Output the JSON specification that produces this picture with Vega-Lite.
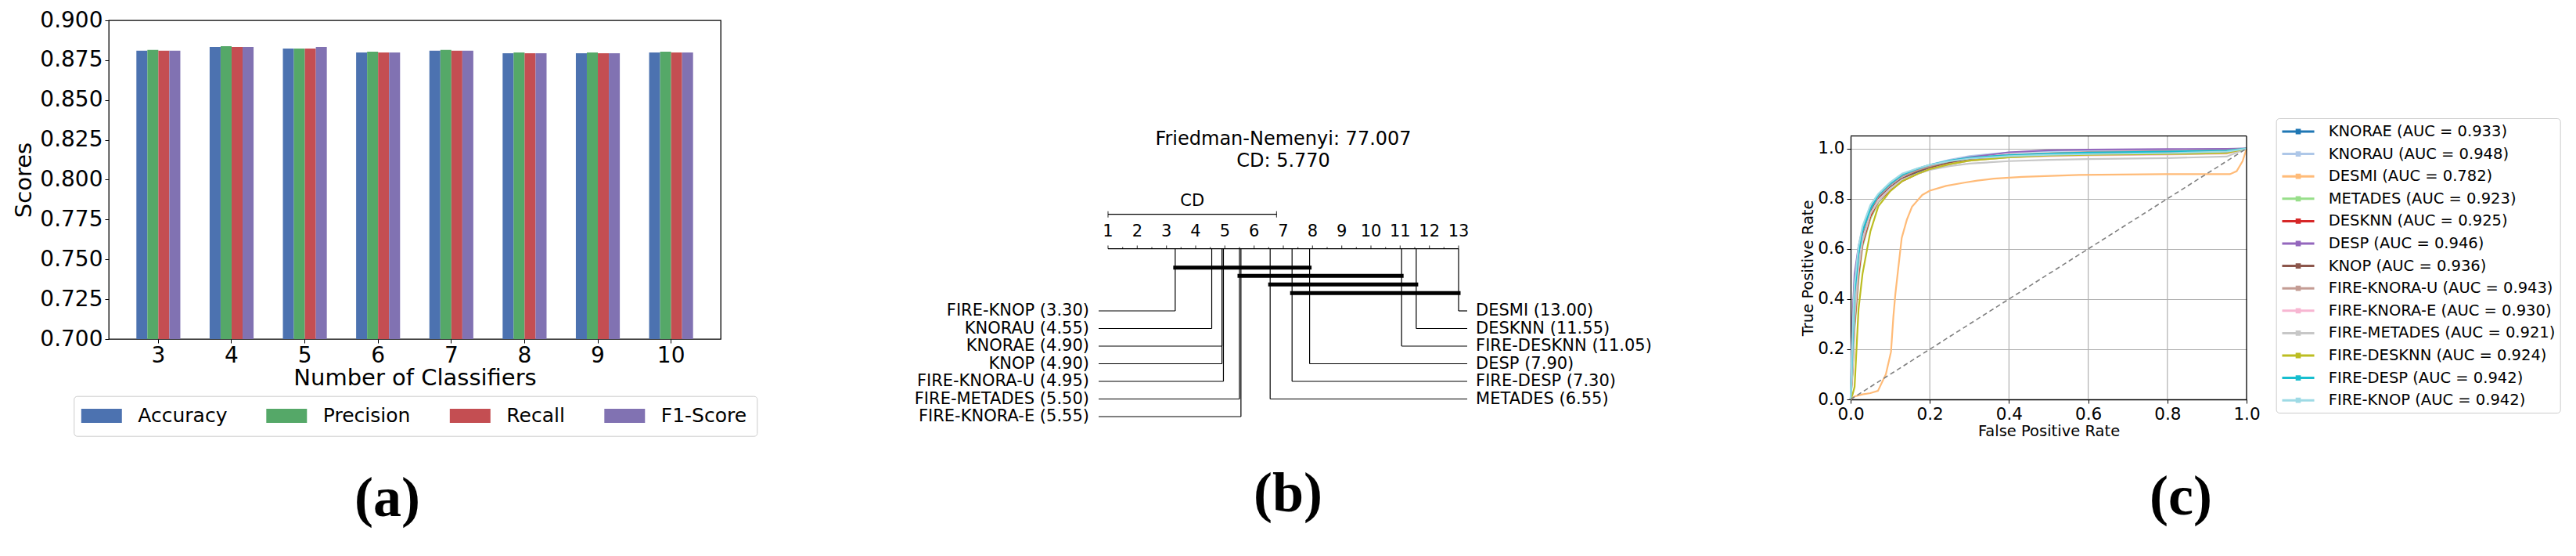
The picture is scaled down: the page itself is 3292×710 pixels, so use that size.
{
  "$schema": "https://vega.github.io/schema/vega-lite/v6.json",
  "background": "white",
  "padding": {"left": 16, "top": 11, "right": 5, "bottom": 5},
  "config": {
    "font": "DejaVu Sans",
    "view": {"stroke": null},
    "axis": {"labelColor": "black", "titleColor": "black", "tickColor": "black", "domainColor": "black", "titleFontWeight": "normal"},
    "legend": {"labelColor": "black"}
  },
  "datasets": {
    "bars": [
      {"n": 3, "metric": "Accuracy", "score": 0.8809}, {"n": 3, "metric": "Precision", "score": 0.8814}, {"n": 3, "metric": "Recall", "score": 0.8809}, {"n": 3, "metric": "F1-Score", "score": 0.8809},
      {"n": 4, "metric": "Accuracy", "score": 0.8833}, {"n": 4, "metric": "Precision", "score": 0.8838}, {"n": 4, "metric": "Recall", "score": 0.8833}, {"n": 4, "metric": "F1-Score", "score": 0.8833},
      {"n": 5, "metric": "Accuracy", "score": 0.8823}, {"n": 5, "metric": "Precision", "score": 0.8823}, {"n": 5, "metric": "Recall", "score": 0.8823}, {"n": 5, "metric": "F1-Score", "score": 0.8833},
      {"n": 6, "metric": "Accuracy", "score": 0.8798}, {"n": 6, "metric": "Precision", "score": 0.8803}, {"n": 6, "metric": "Recall", "score": 0.8798}, {"n": 6, "metric": "F1-Score", "score": 0.8798},
      {"n": 7, "metric": "Accuracy", "score": 0.8809}, {"n": 7, "metric": "Precision", "score": 0.8814}, {"n": 7, "metric": "Recall", "score": 0.8809}, {"n": 7, "metric": "F1-Score", "score": 0.8809},
      {"n": 8, "metric": "Accuracy", "score": 0.8793}, {"n": 8, "metric": "Precision", "score": 0.8798}, {"n": 8, "metric": "Recall", "score": 0.8793}, {"n": 8, "metric": "F1-Score", "score": 0.8793},
      {"n": 9, "metric": "Accuracy", "score": 0.8793}, {"n": 9, "metric": "Precision", "score": 0.8798}, {"n": 9, "metric": "Recall", "score": 0.8793}, {"n": 9, "metric": "F1-Score", "score": 0.8793},
      {"n": 10, "metric": "Accuracy", "score": 0.8798}, {"n": 10, "metric": "Precision", "score": 0.8803}, {"n": 10, "metric": "Recall", "score": 0.8798}, {"n": 10, "metric": "F1-Score", "score": 0.8798}
    ],
    "ticks": [
      {"v": 1, "major": true}, {"v": 1.5, "major": false}, {"v": 2, "major": true}, {"v": 2.5, "major": false},
      {"v": 3, "major": true}, {"v": 3.5, "major": false}, {"v": 4, "major": true}, {"v": 4.5, "major": false},
      {"v": 5, "major": true}, {"v": 5.5, "major": false}, {"v": 6, "major": true}, {"v": 6.5, "major": false},
      {"v": 7, "major": true}, {"v": 7.5, "major": false}, {"v": 8, "major": true}, {"v": 8.5, "major": false},
      {"v": 9, "major": true}, {"v": 9.5, "major": false}, {"v": 10, "major": true}, {"v": 10.5, "major": false},
      {"v": 11, "major": true}, {"v": 11.5, "major": false}, {"v": 12, "major": true}, {"v": 12.5, "major": false},
      {"v": 13, "major": true}
    ],
    "cd": [{"start": 1, "end": 6.77, "mid": 3.885, "label": "CD"}],
    "methods": [
      {"name": "FIRE-KNOP", "rank": 3.30, "side": "left", "row": 1, "label": "FIRE-KNOP (3.30)"},
      {"name": "KNORAU", "rank": 4.55, "side": "left", "row": 2, "label": "KNORAU (4.55)"},
      {"name": "KNORAE", "rank": 4.90, "side": "left", "row": 3, "label": "KNORAE (4.90)"},
      {"name": "KNOP", "rank": 4.90, "side": "left", "row": 4, "label": "KNOP (4.90)"},
      {"name": "FIRE-KNORA-U", "rank": 4.95, "side": "left", "row": 5, "label": "FIRE-KNORA-U (4.95)"},
      {"name": "FIRE-METADES", "rank": 5.50, "side": "left", "row": 6, "label": "FIRE-METADES (5.50)"},
      {"name": "FIRE-KNORA-E", "rank": 5.55, "side": "left", "row": 7, "label": "FIRE-KNORA-E (5.55)"},
      {"name": "DESMI", "rank": 13.00, "side": "right", "row": 1, "label": "DESMI (13.00)"},
      {"name": "DESKNN", "rank": 11.55, "side": "right", "row": 2, "label": "DESKNN (11.55)"},
      {"name": "FIRE-DESKNN", "rank": 11.05, "side": "right", "row": 3, "label": "FIRE-DESKNN (11.05)"},
      {"name": "DESP", "rank": 7.90, "side": "right", "row": 4, "label": "DESP (7.90)"},
      {"name": "FIRE-DESP", "rank": 7.30, "side": "right", "row": 5, "label": "FIRE-DESP (7.30)"},
      {"name": "METADES", "rank": 6.55, "side": "right", "row": 6, "label": "METADES (6.55)"}
    ],
    "cliques": [
      {"k": 1, "lo": 3.30, "hi": 7.90},
      {"k": 2, "lo": 5.50, "hi": 11.05},
      {"k": 3, "lo": 6.55, "hi": 11.55},
      {"k": 4, "lo": 7.30, "hi": 13.00}
    ],
    "xgrid": [{"x": 0.2}, {"x": 0.4}, {"x": 0.6}, {"x": 0.8}, {"x": 1.0}],
    "diag": [{"fpr": 0, "tpr": 0}, {"fpr": 1, "tpr": 1}],
    "roc": [
      {"model": "KNORAE (AUC = 0.933)", "fpr": 0, "tpr": 0}, {"model": "KNORAE (AUC = 0.933)", "fpr": 0.005, "tpr": 0.18}, {"model": "KNORAE (AUC = 0.933)", "fpr": 0.01, "tpr": 0.40}, {"model": "KNORAE (AUC = 0.933)", "fpr": 0.02, "tpr": 0.56}, {"model": "KNORAE (AUC = 0.933)", "fpr": 0.03, "tpr": 0.65}, {"model": "KNORAE (AUC = 0.933)", "fpr": 0.05, "tpr": 0.745}, {"model": "KNORAE (AUC = 0.933)", "fpr": 0.07, "tpr": 0.80}, {"model": "KNORAE (AUC = 0.933)", "fpr": 0.1, "tpr": 0.845}, {"model": "KNORAE (AUC = 0.933)", "fpr": 0.13, "tpr": 0.88}, {"model": "KNORAE (AUC = 0.933)", "fpr": 0.17, "tpr": 0.905}, {"model": "KNORAE (AUC = 0.933)", "fpr": 0.2, "tpr": 0.92}, {"model": "KNORAE (AUC = 0.933)", "fpr": 0.25, "tpr": 0.94}, {"model": "KNORAE (AUC = 0.933)", "fpr": 0.3, "tpr": 0.955}, {"model": "KNORAE (AUC = 0.933)", "fpr": 0.4, "tpr": 0.968}, {"model": "KNORAE (AUC = 0.933)", "fpr": 0.5, "tpr": 0.974}, {"model": "KNORAE (AUC = 0.933)", "fpr": 0.6, "tpr": 0.978}, {"model": "KNORAE (AUC = 0.933)", "fpr": 0.8, "tpr": 0.982}, {"model": "KNORAE (AUC = 0.933)", "fpr": 0.95, "tpr": 0.986}, {"model": "KNORAE (AUC = 0.933)", "fpr": 1, "tpr": 1},
      {"model": "KNORAU (AUC = 0.948)", "fpr": 0, "tpr": 0}, {"model": "KNORAU (AUC = 0.948)", "fpr": 0.005, "tpr": 0.30}, {"model": "KNORAU (AUC = 0.948)", "fpr": 0.01, "tpr": 0.48}, {"model": "KNORAU (AUC = 0.948)", "fpr": 0.02, "tpr": 0.60}, {"model": "KNORAU (AUC = 0.948)", "fpr": 0.03, "tpr": 0.67}, {"model": "KNORAU (AUC = 0.948)", "fpr": 0.05, "tpr": 0.76}, {"model": "KNORAU (AUC = 0.948)", "fpr": 0.07, "tpr": 0.81}, {"model": "KNORAU (AUC = 0.948)", "fpr": 0.1, "tpr": 0.86}, {"model": "KNORAU (AUC = 0.948)", "fpr": 0.13, "tpr": 0.895}, {"model": "KNORAU (AUC = 0.948)", "fpr": 0.17, "tpr": 0.92}, {"model": "KNORAU (AUC = 0.948)", "fpr": 0.2, "tpr": 0.935}, {"model": "KNORAU (AUC = 0.948)", "fpr": 0.25, "tpr": 0.955}, {"model": "KNORAU (AUC = 0.948)", "fpr": 0.3, "tpr": 0.97}, {"model": "KNORAU (AUC = 0.948)", "fpr": 0.4, "tpr": 0.985}, {"model": "KNORAU (AUC = 0.948)", "fpr": 0.5, "tpr": 0.99}, {"model": "KNORAU (AUC = 0.948)", "fpr": 0.6, "tpr": 0.993}, {"model": "KNORAU (AUC = 0.948)", "fpr": 0.8, "tpr": 0.996}, {"model": "KNORAU (AUC = 0.948)", "fpr": 0.95, "tpr": 0.998}, {"model": "KNORAU (AUC = 0.948)", "fpr": 1, "tpr": 1},
      {"model": "DESMI (AUC = 0.782)", "fpr": 0, "tpr": 0}, {"model": "DESMI (AUC = 0.782)", "fpr": 0.01, "tpr": 0.012}, {"model": "DESMI (AUC = 0.782)", "fpr": 0.03, "tpr": 0.02}, {"model": "DESMI (AUC = 0.782)", "fpr": 0.05, "tpr": 0.025}, {"model": "DESMI (AUC = 0.782)", "fpr": 0.069, "tpr": 0.034}, {"model": "DESMI (AUC = 0.782)", "fpr": 0.089, "tpr": 0.10}, {"model": "DESMI (AUC = 0.782)", "fpr": 0.102, "tpr": 0.19}, {"model": "DESMI (AUC = 0.782)", "fpr": 0.108, "tpr": 0.33}, {"model": "DESMI (AUC = 0.782)", "fpr": 0.113, "tpr": 0.42}, {"model": "DESMI (AUC = 0.782)", "fpr": 0.123, "tpr": 0.56}, {"model": "DESMI (AUC = 0.782)", "fpr": 0.129, "tpr": 0.643}, {"model": "DESMI (AUC = 0.782)", "fpr": 0.142, "tpr": 0.716}, {"model": "DESMI (AUC = 0.782)", "fpr": 0.155, "tpr": 0.768}, {"model": "DESMI (AUC = 0.782)", "fpr": 0.181, "tpr": 0.815}, {"model": "DESMI (AUC = 0.782)", "fpr": 0.2, "tpr": 0.832}, {"model": "DESMI (AUC = 0.782)", "fpr": 0.241, "tpr": 0.851}, {"model": "DESMI (AUC = 0.782)", "fpr": 0.287, "tpr": 0.864}, {"model": "DESMI (AUC = 0.782)", "fpr": 0.32, "tpr": 0.872}, {"model": "DESMI (AUC = 0.782)", "fpr": 0.361, "tpr": 0.88}, {"model": "DESMI (AUC = 0.782)", "fpr": 0.433, "tpr": 0.887}, {"model": "DESMI (AUC = 0.782)", "fpr": 0.577, "tpr": 0.895}, {"model": "DESMI (AUC = 0.782)", "fpr": 0.793, "tpr": 0.898}, {"model": "DESMI (AUC = 0.782)", "fpr": 0.958, "tpr": 0.898}, {"model": "DESMI (AUC = 0.782)", "fpr": 0.975, "tpr": 0.91}, {"model": "DESMI (AUC = 0.782)", "fpr": 0.99, "tpr": 0.95}, {"model": "DESMI (AUC = 0.782)", "fpr": 1, "tpr": 1},
      {"model": "METADES (AUC = 0.923)", "fpr": 0, "tpr": 0}, {"model": "METADES (AUC = 0.923)", "fpr": 0.005, "tpr": 0.10}, {"model": "METADES (AUC = 0.923)", "fpr": 0.01, "tpr": 0.28}, {"model": "METADES (AUC = 0.923)", "fpr": 0.02, "tpr": 0.48}, {"model": "METADES (AUC = 0.923)", "fpr": 0.03, "tpr": 0.61}, {"model": "METADES (AUC = 0.923)", "fpr": 0.05, "tpr": 0.72}, {"model": "METADES (AUC = 0.923)", "fpr": 0.07, "tpr": 0.785}, {"model": "METADES (AUC = 0.923)", "fpr": 0.1, "tpr": 0.835}, {"model": "METADES (AUC = 0.923)", "fpr": 0.13, "tpr": 0.87}, {"model": "METADES (AUC = 0.923)", "fpr": 0.17, "tpr": 0.90}, {"model": "METADES (AUC = 0.923)", "fpr": 0.2, "tpr": 0.918}, {"model": "METADES (AUC = 0.923)", "fpr": 0.25, "tpr": 0.938}, {"model": "METADES (AUC = 0.923)", "fpr": 0.3, "tpr": 0.952}, {"model": "METADES (AUC = 0.923)", "fpr": 0.4, "tpr": 0.966}, {"model": "METADES (AUC = 0.923)", "fpr": 0.5, "tpr": 0.972}, {"model": "METADES (AUC = 0.923)", "fpr": 0.6, "tpr": 0.975}, {"model": "METADES (AUC = 0.923)", "fpr": 0.8, "tpr": 0.978}, {"model": "METADES (AUC = 0.923)", "fpr": 0.95, "tpr": 0.982}, {"model": "METADES (AUC = 0.923)", "fpr": 1, "tpr": 1},
      {"model": "DESKNN (AUC = 0.925)", "fpr": 0, "tpr": 0}, {"model": "DESKNN (AUC = 0.925)", "fpr": 0.005, "tpr": 0.12}, {"model": "DESKNN (AUC = 0.925)", "fpr": 0.01, "tpr": 0.30}, {"model": "DESKNN (AUC = 0.925)", "fpr": 0.02, "tpr": 0.50}, {"model": "DESKNN (AUC = 0.925)", "fpr": 0.03, "tpr": 0.62}, {"model": "DESKNN (AUC = 0.925)", "fpr": 0.05, "tpr": 0.73}, {"model": "DESKNN (AUC = 0.925)", "fpr": 0.07, "tpr": 0.79}, {"model": "DESKNN (AUC = 0.925)", "fpr": 0.1, "tpr": 0.835}, {"model": "DESKNN (AUC = 0.925)", "fpr": 0.13, "tpr": 0.87}, {"model": "DESKNN (AUC = 0.925)", "fpr": 0.17, "tpr": 0.90}, {"model": "DESKNN (AUC = 0.925)", "fpr": 0.2, "tpr": 0.918}, {"model": "DESKNN (AUC = 0.925)", "fpr": 0.25, "tpr": 0.94}, {"model": "DESKNN (AUC = 0.925)", "fpr": 0.3, "tpr": 0.955}, {"model": "DESKNN (AUC = 0.925)", "fpr": 0.4, "tpr": 0.97}, {"model": "DESKNN (AUC = 0.925)", "fpr": 0.5, "tpr": 0.976}, {"model": "DESKNN (AUC = 0.925)", "fpr": 0.6, "tpr": 0.98}, {"model": "DESKNN (AUC = 0.925)", "fpr": 0.8, "tpr": 0.983}, {"model": "DESKNN (AUC = 0.925)", "fpr": 0.95, "tpr": 0.986}, {"model": "DESKNN (AUC = 0.925)", "fpr": 1, "tpr": 1},
      {"model": "DESP (AUC = 0.946)", "fpr": 0, "tpr": 0}, {"model": "DESP (AUC = 0.946)", "fpr": 0.005, "tpr": 0.33}, {"model": "DESP (AUC = 0.946)", "fpr": 0.01, "tpr": 0.50}, {"model": "DESP (AUC = 0.946)", "fpr": 0.02, "tpr": 0.61}, {"model": "DESP (AUC = 0.946)", "fpr": 0.03, "tpr": 0.68}, {"model": "DESP (AUC = 0.946)", "fpr": 0.05, "tpr": 0.76}, {"model": "DESP (AUC = 0.946)", "fpr": 0.07, "tpr": 0.81}, {"model": "DESP (AUC = 0.946)", "fpr": 0.1, "tpr": 0.855}, {"model": "DESP (AUC = 0.946)", "fpr": 0.13, "tpr": 0.89}, {"model": "DESP (AUC = 0.946)", "fpr": 0.17, "tpr": 0.915}, {"model": "DESP (AUC = 0.946)", "fpr": 0.2, "tpr": 0.93}, {"model": "DESP (AUC = 0.946)", "fpr": 0.25, "tpr": 0.95}, {"model": "DESP (AUC = 0.946)", "fpr": 0.3, "tpr": 0.965}, {"model": "DESP (AUC = 0.946)", "fpr": 0.4, "tpr": 0.985}, {"model": "DESP (AUC = 0.946)", "fpr": 0.5, "tpr": 0.993}, {"model": "DESP (AUC = 0.946)", "fpr": 0.6, "tpr": 0.996}, {"model": "DESP (AUC = 0.946)", "fpr": 0.8, "tpr": 0.998}, {"model": "DESP (AUC = 0.946)", "fpr": 0.95, "tpr": 0.999}, {"model": "DESP (AUC = 0.946)", "fpr": 1, "tpr": 1},
      {"model": "KNOP (AUC = 0.936)", "fpr": 0, "tpr": 0}, {"model": "KNOP (AUC = 0.936)", "fpr": 0.005, "tpr": 0.20}, {"model": "KNOP (AUC = 0.936)", "fpr": 0.01, "tpr": 0.42}, {"model": "KNOP (AUC = 0.936)", "fpr": 0.02, "tpr": 0.57}, {"model": "KNOP (AUC = 0.936)", "fpr": 0.03, "tpr": 0.66}, {"model": "KNOP (AUC = 0.936)", "fpr": 0.05, "tpr": 0.75}, {"model": "KNOP (AUC = 0.936)", "fpr": 0.07, "tpr": 0.80}, {"model": "KNOP (AUC = 0.936)", "fpr": 0.1, "tpr": 0.845}, {"model": "KNOP (AUC = 0.936)", "fpr": 0.13, "tpr": 0.88}, {"model": "KNOP (AUC = 0.936)", "fpr": 0.17, "tpr": 0.91}, {"model": "KNOP (AUC = 0.936)", "fpr": 0.2, "tpr": 0.925}, {"model": "KNOP (AUC = 0.936)", "fpr": 0.25, "tpr": 0.945}, {"model": "KNOP (AUC = 0.936)", "fpr": 0.3, "tpr": 0.958}, {"model": "KNOP (AUC = 0.936)", "fpr": 0.4, "tpr": 0.97}, {"model": "KNOP (AUC = 0.936)", "fpr": 0.5, "tpr": 0.975}, {"model": "KNOP (AUC = 0.936)", "fpr": 0.6, "tpr": 0.978}, {"model": "KNOP (AUC = 0.936)", "fpr": 0.8, "tpr": 0.982}, {"model": "KNOP (AUC = 0.936)", "fpr": 0.95, "tpr": 0.985}, {"model": "KNOP (AUC = 0.936)", "fpr": 1, "tpr": 1},
      {"model": "FIRE-KNORA-U (AUC = 0.943)", "fpr": 0, "tpr": 0}, {"model": "FIRE-KNORA-U (AUC = 0.943)", "fpr": 0.005, "tpr": 0.25}, {"model": "FIRE-KNORA-U (AUC = 0.943)", "fpr": 0.01, "tpr": 0.45}, {"model": "FIRE-KNORA-U (AUC = 0.943)", "fpr": 0.02, "tpr": 0.59}, {"model": "FIRE-KNORA-U (AUC = 0.943)", "fpr": 0.03, "tpr": 0.67}, {"model": "FIRE-KNORA-U (AUC = 0.943)", "fpr": 0.05, "tpr": 0.76}, {"model": "FIRE-KNORA-U (AUC = 0.943)", "fpr": 0.07, "tpr": 0.81}, {"model": "FIRE-KNORA-U (AUC = 0.943)", "fpr": 0.1, "tpr": 0.855}, {"model": "FIRE-KNORA-U (AUC = 0.943)", "fpr": 0.13, "tpr": 0.89}, {"model": "FIRE-KNORA-U (AUC = 0.943)", "fpr": 0.17, "tpr": 0.915}, {"model": "FIRE-KNORA-U (AUC = 0.943)", "fpr": 0.2, "tpr": 0.93}, {"model": "FIRE-KNORA-U (AUC = 0.943)", "fpr": 0.25, "tpr": 0.95}, {"model": "FIRE-KNORA-U (AUC = 0.943)", "fpr": 0.3, "tpr": 0.962}, {"model": "FIRE-KNORA-U (AUC = 0.943)", "fpr": 0.4, "tpr": 0.975}, {"model": "FIRE-KNORA-U (AUC = 0.943)", "fpr": 0.5, "tpr": 0.982}, {"model": "FIRE-KNORA-U (AUC = 0.943)", "fpr": 0.6, "tpr": 0.986}, {"model": "FIRE-KNORA-U (AUC = 0.943)", "fpr": 0.8, "tpr": 0.99}, {"model": "FIRE-KNORA-U (AUC = 0.943)", "fpr": 0.95, "tpr": 0.993}, {"model": "FIRE-KNORA-U (AUC = 0.943)", "fpr": 1, "tpr": 1},
      {"model": "FIRE-KNORA-E (AUC = 0.930)", "fpr": 0, "tpr": 0}, {"model": "FIRE-KNORA-E (AUC = 0.930)", "fpr": 0.005, "tpr": 0.15}, {"model": "FIRE-KNORA-E (AUC = 0.930)", "fpr": 0.01, "tpr": 0.36}, {"model": "FIRE-KNORA-E (AUC = 0.930)", "fpr": 0.02, "tpr": 0.54}, {"model": "FIRE-KNORA-E (AUC = 0.930)", "fpr": 0.03, "tpr": 0.64}, {"model": "FIRE-KNORA-E (AUC = 0.930)", "fpr": 0.05, "tpr": 0.74}, {"model": "FIRE-KNORA-E (AUC = 0.930)", "fpr": 0.07, "tpr": 0.795}, {"model": "FIRE-KNORA-E (AUC = 0.930)", "fpr": 0.1, "tpr": 0.84}, {"model": "FIRE-KNORA-E (AUC = 0.930)", "fpr": 0.13, "tpr": 0.875}, {"model": "FIRE-KNORA-E (AUC = 0.930)", "fpr": 0.17, "tpr": 0.90}, {"model": "FIRE-KNORA-E (AUC = 0.930)", "fpr": 0.2, "tpr": 0.918}, {"model": "FIRE-KNORA-E (AUC = 0.930)", "fpr": 0.25, "tpr": 0.938}, {"model": "FIRE-KNORA-E (AUC = 0.930)", "fpr": 0.3, "tpr": 0.952}, {"model": "FIRE-KNORA-E (AUC = 0.930)", "fpr": 0.4, "tpr": 0.965}, {"model": "FIRE-KNORA-E (AUC = 0.930)", "fpr": 0.5, "tpr": 0.97}, {"model": "FIRE-KNORA-E (AUC = 0.930)", "fpr": 0.6, "tpr": 0.973}, {"model": "FIRE-KNORA-E (AUC = 0.930)", "fpr": 0.8, "tpr": 0.976}, {"model": "FIRE-KNORA-E (AUC = 0.930)", "fpr": 0.95, "tpr": 0.98}, {"model": "FIRE-KNORA-E (AUC = 0.930)", "fpr": 1, "tpr": 1},
      {"model": "FIRE-METADES (AUC = 0.921)", "fpr": 0, "tpr": 0}, {"model": "FIRE-METADES (AUC = 0.921)", "fpr": 0.005, "tpr": 0.12}, {"model": "FIRE-METADES (AUC = 0.921)", "fpr": 0.01, "tpr": 0.32}, {"model": "FIRE-METADES (AUC = 0.921)", "fpr": 0.02, "tpr": 0.52}, {"model": "FIRE-METADES (AUC = 0.921)", "fpr": 0.03, "tpr": 0.63}, {"model": "FIRE-METADES (AUC = 0.921)", "fpr": 0.05, "tpr": 0.74}, {"model": "FIRE-METADES (AUC = 0.921)", "fpr": 0.07, "tpr": 0.79}, {"model": "FIRE-METADES (AUC = 0.921)", "fpr": 0.1, "tpr": 0.84}, {"model": "FIRE-METADES (AUC = 0.921)", "fpr": 0.13, "tpr": 0.875}, {"model": "FIRE-METADES (AUC = 0.921)", "fpr": 0.17, "tpr": 0.90}, {"model": "FIRE-METADES (AUC = 0.921)", "fpr": 0.2, "tpr": 0.915}, {"model": "FIRE-METADES (AUC = 0.921)", "fpr": 0.25, "tpr": 0.93}, {"model": "FIRE-METADES (AUC = 0.921)", "fpr": 0.3, "tpr": 0.94}, {"model": "FIRE-METADES (AUC = 0.921)", "fpr": 0.4, "tpr": 0.95}, {"model": "FIRE-METADES (AUC = 0.921)", "fpr": 0.5, "tpr": 0.955}, {"model": "FIRE-METADES (AUC = 0.921)", "fpr": 0.6, "tpr": 0.958}, {"model": "FIRE-METADES (AUC = 0.921)", "fpr": 0.8, "tpr": 0.962}, {"model": "FIRE-METADES (AUC = 0.921)", "fpr": 0.95, "tpr": 0.968}, {"model": "FIRE-METADES (AUC = 0.921)", "fpr": 1, "tpr": 1},
      {"model": "FIRE-DESKNN (AUC = 0.924)", "fpr": 0, "tpr": 0}, {"model": "FIRE-DESKNN (AUC = 0.924)", "fpr": 0.005, "tpr": 0.02}, {"model": "FIRE-DESKNN (AUC = 0.924)", "fpr": 0.01, "tpr": 0.05}, {"model": "FIRE-DESKNN (AUC = 0.924)", "fpr": 0.02, "tpr": 0.36}, {"model": "FIRE-DESKNN (AUC = 0.924)", "fpr": 0.03, "tpr": 0.50}, {"model": "FIRE-DESKNN (AUC = 0.924)", "fpr": 0.05, "tpr": 0.67}, {"model": "FIRE-DESKNN (AUC = 0.924)", "fpr": 0.07, "tpr": 0.77}, {"model": "FIRE-DESKNN (AUC = 0.924)", "fpr": 0.1, "tpr": 0.83}, {"model": "FIRE-DESKNN (AUC = 0.924)", "fpr": 0.13, "tpr": 0.87}, {"model": "FIRE-DESKNN (AUC = 0.924)", "fpr": 0.17, "tpr": 0.90}, {"model": "FIRE-DESKNN (AUC = 0.924)", "fpr": 0.2, "tpr": 0.918}, {"model": "FIRE-DESKNN (AUC = 0.924)", "fpr": 0.25, "tpr": 0.938}, {"model": "FIRE-DESKNN (AUC = 0.924)", "fpr": 0.3, "tpr": 0.952}, {"model": "FIRE-DESKNN (AUC = 0.924)", "fpr": 0.4, "tpr": 0.965}, {"model": "FIRE-DESKNN (AUC = 0.924)", "fpr": 0.5, "tpr": 0.972}, {"model": "FIRE-DESKNN (AUC = 0.924)", "fpr": 0.6, "tpr": 0.975}, {"model": "FIRE-DESKNN (AUC = 0.924)", "fpr": 0.8, "tpr": 0.978}, {"model": "FIRE-DESKNN (AUC = 0.924)", "fpr": 0.95, "tpr": 0.982}, {"model": "FIRE-DESKNN (AUC = 0.924)", "fpr": 1, "tpr": 1},
      {"model": "FIRE-DESP (AUC = 0.942)", "fpr": 0, "tpr": 0}, {"model": "FIRE-DESP (AUC = 0.942)", "fpr": 0.005, "tpr": 0.22}, {"model": "FIRE-DESP (AUC = 0.942)", "fpr": 0.01, "tpr": 0.42}, {"model": "FIRE-DESP (AUC = 0.942)", "fpr": 0.02, "tpr": 0.58}, {"model": "FIRE-DESP (AUC = 0.942)", "fpr": 0.03, "tpr": 0.67}, {"model": "FIRE-DESP (AUC = 0.942)", "fpr": 0.05, "tpr": 0.76}, {"model": "FIRE-DESP (AUC = 0.942)", "fpr": 0.07, "tpr": 0.815}, {"model": "FIRE-DESP (AUC = 0.942)", "fpr": 0.1, "tpr": 0.86}, {"model": "FIRE-DESP (AUC = 0.942)", "fpr": 0.13, "tpr": 0.895}, {"model": "FIRE-DESP (AUC = 0.942)", "fpr": 0.17, "tpr": 0.92}, {"model": "FIRE-DESP (AUC = 0.942)", "fpr": 0.2, "tpr": 0.935}, {"model": "FIRE-DESP (AUC = 0.942)", "fpr": 0.25, "tpr": 0.952}, {"model": "FIRE-DESP (AUC = 0.942)", "fpr": 0.3, "tpr": 0.963}, {"model": "FIRE-DESP (AUC = 0.942)", "fpr": 0.4, "tpr": 0.974}, {"model": "FIRE-DESP (AUC = 0.942)", "fpr": 0.5, "tpr": 0.98}, {"model": "FIRE-DESP (AUC = 0.942)", "fpr": 0.6, "tpr": 0.984}, {"model": "FIRE-DESP (AUC = 0.942)", "fpr": 0.8, "tpr": 0.988}, {"model": "FIRE-DESP (AUC = 0.942)", "fpr": 0.95, "tpr": 0.992}, {"model": "FIRE-DESP (AUC = 0.942)", "fpr": 1, "tpr": 1},
      {"model": "FIRE-KNOP (AUC = 0.942)", "fpr": 0, "tpr": 0}, {"model": "FIRE-KNOP (AUC = 0.942)", "fpr": 0.005, "tpr": 0.28}, {"model": "FIRE-KNOP (AUC = 0.942)", "fpr": 0.01, "tpr": 0.46}, {"model": "FIRE-KNOP (AUC = 0.942)", "fpr": 0.02, "tpr": 0.61}, {"model": "FIRE-KNOP (AUC = 0.942)", "fpr": 0.03, "tpr": 0.69}, {"model": "FIRE-KNOP (AUC = 0.942)", "fpr": 0.05, "tpr": 0.775}, {"model": "FIRE-KNOP (AUC = 0.942)", "fpr": 0.07, "tpr": 0.82}, {"model": "FIRE-KNOP (AUC = 0.942)", "fpr": 0.1, "tpr": 0.865}, {"model": "FIRE-KNOP (AUC = 0.942)", "fpr": 0.13, "tpr": 0.90}, {"model": "FIRE-KNOP (AUC = 0.942)", "fpr": 0.17, "tpr": 0.922}, {"model": "FIRE-KNOP (AUC = 0.942)", "fpr": 0.2, "tpr": 0.935}, {"model": "FIRE-KNOP (AUC = 0.942)", "fpr": 0.25, "tpr": 0.95}, {"model": "FIRE-KNOP (AUC = 0.942)", "fpr": 0.3, "tpr": 0.96}, {"model": "FIRE-KNOP (AUC = 0.942)", "fpr": 0.4, "tpr": 0.97}, {"model": "FIRE-KNOP (AUC = 0.942)", "fpr": 0.5, "tpr": 0.975}, {"model": "FIRE-KNOP (AUC = 0.942)", "fpr": 0.6, "tpr": 0.978}, {"model": "FIRE-KNOP (AUC = 0.942)", "fpr": 0.8, "tpr": 0.982}, {"model": "FIRE-KNOP (AUC = 0.942)", "fpr": 0.95, "tpr": 0.988}, {"model": "FIRE-KNOP (AUC = 0.942)", "fpr": 1, "tpr": 1}
    ]
  },
  "spacing": 100,
  "bounds": "flush",
  "resolve": {"scale": {"color": "independent"}, "legend": {"color": "independent"}},
  "hconcat": [
    {
      "width": 782,
      "height": 407,
      "view": {"stroke": "black", "strokeWidth": 1.3},
      "title": {"text": "(a)", "orient": "bottom", "anchor": "middle", "frame": "group", "font": "Liberation Serif", "fontSize": 72, "fontWeight": "bold", "color": "black", "offset": 45, "dx": -35},
      "data": {"name": "bars"},
      "mark": {"type": "bar", "clip": true},
      "encoding": {
        "x": {"field": "n", "type": "ordinal", "scale": {"paddingInner": 0.4, "paddingOuter": 0.377},
          "axis": {"title": "Number of Classifiers", "titleFontSize": 29, "titlePadding": 0, "labelFontSize": 28, "labelAngle": 0, "labelPadding": 2, "tickSize": 5, "domain": false}},
        "xOffset": {"field": "metric", "type": "nominal", "sort": ["Accuracy", "Precision", "Recall", "F1-Score"]},
        "y": {"field": "score", "type": "quantitative", "scale": {"domain": [0.7, 0.9], "nice": false, "zero": false},
          "axis": {"title": "Scores", "titleFontSize": 29, "titlePadding": 5, "labelFontSize": 28, "labelPadding": 3, "tickSize": 5, "format": ".3f", "values": [0.7, 0.725, 0.75, 0.775, 0.8, 0.825, 0.85, 0.875, 0.9], "grid": false, "domain": false}},
        "color": {"field": "metric", "type": "nominal",
          "scale": {"domain": ["Accuracy", "Precision", "Recall", "F1-Score"], "range": ["#4c72b0", "#55a868", "#c44e52", "#8172b2"]},
          "legend": {"orient": "none", "legendX": -44.7, "legendY": 479.7, "direction": "horizontal", "columns": 4, "title": null,
            "symbolType": "M-1.29,-0.75H3.04V0.75H-1.29Z", "symbolSize": 576, "symbolStrokeWidth": 0, "symbolOpacity": 1,
            "labelFontSize": 25, "labelOffset": 44.5, "columnPadding": 49.5, "padding": 12.5, "labelLimit": 0,
            "strokeColor": "#cccccc", "cornerRadius": 4, "fillColor": "white"}}
      }
    },
    {
      "width": 1244,
      "height": 520,
      "title": {"text": "(b)", "orient": "bottom", "anchor": "middle", "frame": "group", "font": "Liberation Serif", "fontSize": 72, "fontWeight": "bold", "color": "black", "offset": 50, "dx": 3},
      "layer": [
        {
          "data": {"name": "methods"},
          "mark": {"type": "rule", "color": "black", "strokeWidth": 1.2},
          "encoding": {
            "x": {"field": "rank", "type": "quantitative", "scale": {"domain": [1, 13], "range": [395, 843], "nice": false, "zero": false}, "axis": null},
            "y": {"field": "row", "type": "quantitative", "scale": {"domain": [1, 7], "range": [371, 506], "nice": false, "zero": false}, "axis": null},
            "y2": {"datum": -2.524}
          }
        },
        {
          "data": {"name": "methods"},
          "transform": [{"filter": "datum.side == 'left'"}],
          "mark": {"type": "rule", "color": "black", "strokeWidth": 1.2},
          "encoding": {
            "x": {"field": "rank", "type": "quantitative", "scale": {"domain": [1, 13], "range": [395, 843], "nice": false, "zero": false}, "axis": null},
            "x2": {"datum": 0.679},
            "y": {"field": "row", "type": "quantitative", "scale": {"domain": [1, 7], "range": [371, 506], "nice": false, "zero": false}, "axis": null}
          }
        },
        {
          "data": {"name": "methods"},
          "transform": [{"filter": "datum.side == 'right'"}],
          "mark": {"type": "rule", "color": "black", "strokeWidth": 1.2},
          "encoding": {
            "x": {"field": "rank", "type": "quantitative", "scale": {"domain": [1, 13], "range": [395, 843], "nice": false, "zero": false}, "axis": null},
            "x2": {"datum": 13.296},
            "y": {"field": "row", "type": "quantitative", "scale": {"domain": [1, 7], "range": [371, 506], "nice": false, "zero": false}, "axis": null}
          }
        },
        {
          "data": {"name": "methods"},
          "transform": [{"filter": "datum.side == 'left'"}],
          "mark": {"type": "text", "fontSize": 21, "color": "black", "align": "right", "baseline": "middle", "dx": -12},
          "encoding": {
            "x": {"datum": 0.679, "type": "quantitative", "scale": {"domain": [1, 13], "range": [395, 843], "nice": false, "zero": false}, "axis": null},
            "y": {"field": "row", "type": "quantitative", "scale": {"domain": [1, 7], "range": [371, 506], "nice": false, "zero": false}, "axis": null},
            "text": {"field": "label", "type": "nominal"}
          }
        },
        {
          "data": {"name": "methods"},
          "transform": [{"filter": "datum.side == 'right'"}],
          "mark": {"type": "text", "fontSize": 21, "color": "black", "align": "left", "baseline": "middle", "dx": 11},
          "encoding": {
            "x": {"datum": 13.296, "type": "quantitative", "scale": {"domain": [1, 13], "range": [395, 843], "nice": false, "zero": false}, "axis": null},
            "y": {"field": "row", "type": "quantitative", "scale": {"domain": [1, 7], "range": [371, 506], "nice": false, "zero": false}, "axis": null},
            "text": {"field": "label", "type": "nominal"}
          }
        },
        {
          "data": {"name": "ticks"},
          "transform": [{"aggregate": [{"op": "min", "field": "v", "as": "lo"}, {"op": "max", "field": "v", "as": "hi"}]}],
          "mark": {"type": "rule", "color": "black", "strokeWidth": 1.2},
          "encoding": {
            "x": {"field": "lo", "type": "quantitative", "scale": {"domain": [1, 13], "range": [395, 843], "nice": false, "zero": false}, "axis": null},
            "x2": {"field": "hi"},
            "y": {"datum": -2.524, "type": "quantitative", "scale": {"domain": [1, 7], "range": [371, 506], "nice": false, "zero": false}, "axis": null}
          }
        },
        {
          "data": {"name": "ticks"},
          "transform": [{"filter": "datum.major"}],
          "mark": {"type": "tick", "orient": "vertical", "color": "black", "size": 4.3, "thickness": 1.2},
          "encoding": {
            "x": {"field": "v", "type": "quantitative", "scale": {"domain": [1, 13], "range": [395, 843], "nice": false, "zero": false}, "axis": null},
            "y": {"datum": -2.62, "type": "quantitative", "scale": {"domain": [1, 7], "range": [371, 506], "nice": false, "zero": false}, "axis": null}
          }
        },
        {
          "data": {"name": "ticks"},
          "transform": [{"filter": "!datum.major"}],
          "mark": {"type": "tick", "orient": "vertical", "color": "black", "size": 2.2, "thickness": 1.2},
          "encoding": {
            "x": {"field": "v", "type": "quantitative", "scale": {"domain": [1, 13], "range": [395, 843], "nice": false, "zero": false}, "axis": null},
            "y": {"datum": -2.573, "type": "quantitative", "scale": {"domain": [1, 7], "range": [371, 506], "nice": false, "zero": false}, "axis": null}
          }
        },
        {
          "data": {"name": "ticks"},
          "transform": [{"filter": "datum.major"}],
          "mark": {"type": "text", "fontSize": 21, "color": "black", "baseline": "middle", "align": "center"},
          "encoding": {
            "x": {"field": "v", "type": "quantitative", "scale": {"domain": [1, 13], "range": [395, 843], "nice": false, "zero": false}, "axis": null},
            "y": {"datum": -3.489, "type": "quantitative", "scale": {"domain": [1, 7], "range": [371, 506], "nice": false, "zero": false}, "axis": null},
            "text": {"field": "v", "type": "nominal"}
          }
        },
        {
          "data": {"name": "cd"},
          "mark": {"type": "rule", "color": "black", "strokeWidth": 1.2},
          "encoding": {
            "x": {"field": "start", "type": "quantitative", "scale": {"domain": [1, 13], "range": [395, 843], "nice": false, "zero": false}, "axis": null},
            "x2": {"field": "end"},
            "y": {"datum": -4.48, "type": "quantitative", "scale": {"domain": [1, 7], "range": [371, 506], "nice": false, "zero": false}, "axis": null}
          }
        },
        {
          "data": {"name": "cd"},
          "mark": {"type": "tick", "orient": "vertical", "color": "black", "size": 8, "thickness": 1.2},
          "encoding": {
            "x": {"field": "start", "type": "quantitative", "scale": {"domain": [1, 13], "range": [395, 843], "nice": false, "zero": false}, "axis": null},
            "y": {"datum": -4.48, "type": "quantitative", "scale": {"domain": [1, 7], "range": [371, 506], "nice": false, "zero": false}, "axis": null}
          }
        },
        {
          "data": {"name": "cd"},
          "mark": {"type": "tick", "orient": "vertical", "color": "black", "size": 8, "thickness": 1.2},
          "encoding": {
            "x": {"field": "end", "type": "quantitative", "scale": {"domain": [1, 13], "range": [395, 843], "nice": false, "zero": false}, "axis": null},
            "y": {"datum": -4.48, "type": "quantitative", "scale": {"domain": [1, 7], "range": [371, 506], "nice": false, "zero": false}, "axis": null}
          }
        },
        {
          "data": {"name": "cd"},
          "mark": {"type": "text", "fontSize": 21, "color": "black", "baseline": "middle", "align": "center"},
          "encoding": {
            "x": {"field": "mid", "type": "quantitative", "scale": {"domain": [1, 13], "range": [395, 843], "nice": false, "zero": false}, "axis": null},
            "y": {"datum": -5.222, "type": "quantitative", "scale": {"domain": [1, 7], "range": [371, 506], "nice": false, "zero": false}, "axis": null},
            "text": {"field": "label", "type": "nominal"}
          }
        },
        {
          "data": {"name": "cd"},
          "mark": {"type": "text", "fontSize": 24, "color": "black", "baseline": "middle", "align": "center", "text": "Friedman-Nemenyi: 77.007"},
          "encoding": {
            "x": {"datum": 7, "type": "quantitative", "scale": {"domain": [1, 13], "range": [395, 843], "nice": false, "zero": false}, "axis": null},
            "y": {"datum": -8.747, "type": "quantitative", "scale": {"domain": [1, 7], "range": [371, 506], "nice": false, "zero": false}, "axis": null}
          }
        },
        {
          "data": {"name": "cd"},
          "mark": {"type": "text", "fontSize": 24, "color": "black", "baseline": "middle", "align": "center", "text": "CD: 5.770"},
          "encoding": {
            "x": {"datum": 7, "type": "quantitative", "scale": {"domain": [1, 13], "range": [395, 843], "nice": false, "zero": false}, "axis": null},
            "y": {"datum": -7.489, "type": "quantitative", "scale": {"domain": [1, 7], "range": [371, 506], "nice": false, "zero": false}, "axis": null}
          }
        },
        {
          "data": {"name": "cliques"},
          "transform": [{"filter": "datum.k == 1"}],
          "mark": {"type": "rule", "color": "black", "strokeWidth": 5, "strokeCap": "square"},
          "encoding": {
            "x": {"field": "lo", "type": "quantitative", "scale": {"domain": [1, 13], "range": [395, 843], "nice": false, "zero": false}, "axis": null},
            "x2": {"field": "hi"},
            "y": {"datum": -1.458, "type": "quantitative", "scale": {"domain": [1, 7], "range": [371, 506], "nice": false, "zero": false}, "axis": null}
          }
        },
        {
          "data": {"name": "cliques"},
          "transform": [{"filter": "datum.k == 2"}],
          "mark": {"type": "rule", "color": "black", "strokeWidth": 5, "strokeCap": "square"},
          "encoding": {
            "x": {"field": "lo", "type": "quantitative", "scale": {"domain": [1, 13], "range": [395, 843], "nice": false, "zero": false}, "axis": null},
            "x2": {"field": "hi"},
            "y": {"datum": -0.987, "type": "quantitative", "scale": {"domain": [1, 7], "range": [371, 506], "nice": false, "zero": false}, "axis": null}
          }
        },
        {
          "data": {"name": "cliques"},
          "transform": [{"filter": "datum.k == 3"}],
          "mark": {"type": "rule", "color": "black", "strokeWidth": 5, "strokeCap": "square"},
          "encoding": {
            "x": {"field": "lo", "type": "quantitative", "scale": {"domain": [1, 13], "range": [395, 843], "nice": false, "zero": false}, "axis": null},
            "x2": {"field": "hi"},
            "y": {"datum": -0.498, "type": "quantitative", "scale": {"domain": [1, 7], "range": [371, 506], "nice": false, "zero": false}, "axis": null}
          }
        },
        {
          "data": {"name": "cliques"},
          "transform": [{"filter": "datum.k == 4"}],
          "mark": {"type": "rule", "color": "black", "strokeWidth": 5, "strokeCap": "square"},
          "encoding": {
            "x": {"field": "lo", "type": "quantitative", "scale": {"domain": [1, 13], "range": [395, 843], "nice": false, "zero": false}, "axis": null},
            "x2": {"field": "hi"},
            "y": {"datum": -0.009, "type": "quantitative", "scale": {"domain": [1, 7], "range": [371, 506], "nice": false, "zero": false}, "axis": null}
          }
        }
      ]
    },
    {
      "width": 506,
      "height": 484,
      "title": {"text": "(c)", "orient": "bottom", "anchor": "middle", "frame": "group", "font": "Liberation Serif", "fontSize": 72, "fontWeight": "bold", "color": "black", "offset": 40, "dx": 169},
      "layer": [
        {
          "data": {"name": "xgrid"},
          "transform": [{"filter": "datum.x < 1"}],
          "mark": {"type": "rule", "orient": "vertical", "color": "#b0b0b0", "strokeWidth": 1.2},
          "encoding": {
            "x": {"field": "x", "type": "quantitative", "scale": {"domain": [0, 1], "nice": false, "zero": false}},
            "y": {"datum": 1.05, "type": "quantitative", "scale": {"domain": [0, 1.05], "range": [484, 147.7], "nice": false, "zero": false}}
          }
        },
        {
          "data": {"name": "roc"},
          "mark": {"type": "line", "strokeWidth": 2.2},
          "encoding": {
            "x": {"field": "fpr", "type": "quantitative", "scale": {"domain": [0, 1], "nice": false, "zero": false},
              "axis": {"title": "False Positive Rate", "titleFontSize": 19.5, "titlePadding": 2, "labelFontSize": 21.5, "labelPadding": 3, "tickSize": 5, "values": [0, 0.2, 0.4, 0.6, 0.8, 1], "format": ".1f", "grid": false, "domain": true, "domainWidth": 1.3, "labelFlush": false, "labelOverlap": false}},
            "y": {"field": "tpr", "type": "quantitative", "scale": {"domain": [0, 1.05], "range": [484, 147.7], "nice": false, "zero": false},
              "axis": {"title": "True Positive Rate", "titleFontSize": 19.5, "titlePadding": 2, "labelFontSize": 21.5, "labelPadding": 3, "tickSize": 5, "values": [0, 0.2, 0.4, 0.6, 0.8, 1], "format": ".1f", "grid": true, "gridColor": "#b0b0b0", "gridWidth": 1.2, "domain": true, "domainWidth": 1.3, "labelFlush": false, "labelOverlap": false}},
            "color": {"field": "model", "type": "nominal",
              "scale": {
                "domain": ["KNORAE (AUC = 0.933)", "KNORAU (AUC = 0.948)", "DESMI (AUC = 0.782)", "METADES (AUC = 0.923)", "DESKNN (AUC = 0.925)", "DESP (AUC = 0.946)", "KNOP (AUC = 0.936)", "FIRE-KNORA-U (AUC = 0.943)", "FIRE-KNORA-E (AUC = 0.930)", "FIRE-METADES (AUC = 0.921)", "FIRE-DESKNN (AUC = 0.924)", "FIRE-DESP (AUC = 0.942)", "FIRE-KNOP (AUC = 0.942)"],
                "range": ["#1f77b4", "#aec7e8", "#ffbb78", "#98df8a", "#d62728", "#9467bd", "#8c564b", "#c49c94", "#f7b6d2", "#c7c7c7", "#bcbd22", "#17becf", "#9edae5"]
              },
              "legend": {"orient": "none", "legendX": 543.7, "legendY": 125, "title": null, "direction": "vertical",
                "symbolType": "M-0.97,0H3.35M1.0,-0.2H1.38V0.2H1.0Z", "symbolSize": 361, "symbolStrokeWidth": 3,
                "labelFontSize": 19.5, "labelOffset": 39, "rowPadding": 7.6, "padding": 6, "labelLimit": 0,
                "strokeColor": "#cccccc", "cornerRadius": 4, "fillColor": "white"}}
          }
        },
        {
          "data": {"name": "diag"},
          "mark": {"type": "line", "color": "#808080", "strokeDash": [6, 4], "strokeWidth": 1.6},
          "encoding": {"x": {"field": "fpr", "type": "quantitative"}, "y": {"field": "tpr", "type": "quantitative"}}
        },
        {
          "data": {"name": "xgrid"},
          "transform": [{"filter": "datum.x == 1"}],
          "mark": {"type": "rule", "orient": "vertical", "color": "black", "strokeWidth": 1.3},
          "encoding": {
            "x": {"field": "x", "type": "quantitative"},
            "y": {"datum": 1.05, "type": "quantitative"}
          }
        },
        {
          "data": {"name": "xgrid"},
          "transform": [{"filter": "datum.x == 1"}],
          "mark": {"type": "rule", "color": "black", "strokeWidth": 1.3},
          "encoding": {
            "y": {"datum": 1.05, "type": "quantitative"}
          }
        }
      ]
    }
  ]
}
